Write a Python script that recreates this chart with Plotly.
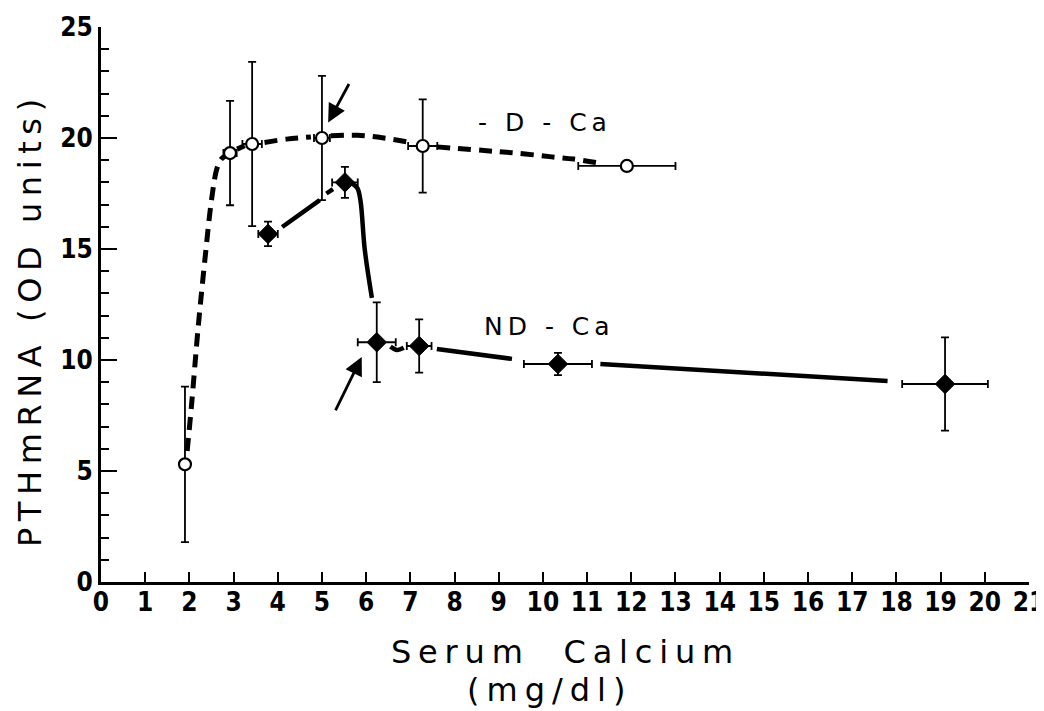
import plotly.graph_objects as go

# -D-Ca (open circles)
dca_x = [1.9, 2.92, 3.42, 5.0, 7.28, 11.9]
dca_y = [5.3, 19.32, 19.73, 20.0, 19.64, 18.74]
dca_yerr = [3.5, 2.35, 3.7, 2.8, 2.1, 0.2]
dca_xerr = [0.11, 0.15, 0.22, 0.18, 0.33, 1.1]

# ND-Ca (filled diamonds)
ndca_x = [3.78, 5.52, 6.24, 7.2, 10.34, 19.1]
ndca_y = [15.68, 18.0, 10.8, 10.63, 9.82, 8.92]
ndca_yerr = [0.55, 0.7, 1.8, 1.2, 0.5, 2.1]
ndca_xerr = [0.22, 0.29, 0.43, 0.28, 0.77, 0.97]

# hand-drawn curves
dca_curve_x = [1.95, 2.05, 2.2, 2.35, 2.5, 2.62, 2.72, 2.82, None,
               3.08, 3.25, None,
               3.7, 4.2, 4.75, None,
               5.2, 5.8, 6.4, 7.0, None,
               7.6, 8.9, 9.6, 10.2, 10.7, 11.2]
dca_curve_y = [5.9, 8.0, 11.5, 14.5, 17.2, 18.6, 19.05, 19.2, None,
               19.5, 19.65, None,
               19.8, 19.95, 20.05, None,
               20.1, 20.12, 20.0, 19.8, None,
               19.6, 19.4, 19.28, 19.15, 19.05, 18.9]

nd_curve_x = [4.1, 4.95, None, 5.1, 5.25, None,
              5.68, 5.8, 5.87, 5.97, 6.13, None,
              6.55, 6.7, 6.85, None,
              7.6, 9.3, None,
              11.3, 17.8]
nd_curve_y = [15.99, 17.2, None, 17.5, 17.7, None,
              17.95, 17.75, 17.2, 14.95, 12.8, None,
              10.6, 10.45, 10.55, None,
              10.5, 10.05, None,
              9.82, 9.05]

# labels and arrows
label_text = ["- D - Ca", "ND - Ca"]
label_x = [10.05, 10.14]
label_y = [20.7, 11.5]
arrow_tip_x = [5.14, 5.9]
arrow_tip_y = [20.7, 10.14]
arrow_tail_x = [5.63, 5.29]
arrow_tail_y = [22.5, 7.66]

x_title_lines = ["Serum  Calcium", "(mg/dl)"]
y_title = "PTHmRNA (OD units)"

x_ticks = list(range(0, 22))
y_ticks = [0, 5, 10, 15, 20, 25]


def spaced(txt, px):
    return f'<span style="letter-spacing:{px}px">{txt}</span>'


fig = go.Figure()

fig.add_trace(go.Scatter(
    x=dca_curve_x, y=dca_curve_y, mode="lines",
    line=dict(color="black", width=5, dash="13px,8px", shape="spline"),
    connectgaps=False, hoverinfo="skip", showlegend=False))

fig.add_trace(go.Scatter(
    x=nd_curve_x, y=nd_curve_y, mode="lines",
    line=dict(color="black", width=4.5, shape="spline"),
    connectgaps=False, hoverinfo="skip", showlegend=False))

fig.add_trace(go.Scatter(
    x=dca_x, y=dca_y, mode="markers",
    marker=dict(symbol="circle", size=12, color="white",
                line=dict(color="black", width=2.2)),
    error_y=dict(type="data", array=dca_yerr, color="black", thickness=1.8, width=4),
    error_x=dict(type="data", array=dca_xerr, color="black", thickness=1.8, width=4),
    showlegend=False))

fig.add_trace(go.Scatter(
    x=ndca_x, y=ndca_y, mode="markers",
    marker=dict(symbol="diamond", size=15, color="black",
                line=dict(color="black", width=1)),
    error_y=dict(type="data", array=ndca_yerr, color="black", thickness=1.8, width=4),
    error_x=dict(type="data", array=ndca_xerr, color="black", thickness=1.8, width=4),
    showlegend=False))

for t, lx, ly in zip(label_text, label_x, label_y):
    fig.add_annotation(x=lx, y=ly, text=spaced(t, 5), showarrow=False,
                       font=dict(family="DejaVu Sans", size=25, color="black"))

for tx, ty, ax, ay in zip(arrow_tip_x, arrow_tip_y, arrow_tail_x, arrow_tail_y):
    fig.add_annotation(x=tx, y=ty, ax=ax, ay=ay, axref="x", ayref="y",
                       xref="x", yref="y", text="", showarrow=True,
                       arrowhead=2, arrowsize=1.3, arrowwidth=2.8,
                       arrowcolor="black", standoff=0)

title_font = dict(family="DejaVu Sans", size=32, color="black")

# axis titles placed as annotations for exact line spacing
for txt, shift, xs, sp in zip(x_title_lines, [-70, -108], [0, -16], [6.8, 7]):
    fig.add_annotation(x=0.5, y=0, xref="paper", yref="paper", text=spaced(txt, sp),
                       showarrow=False, yanchor="middle", xanchor="center",
                       yshift=shift, xshift=xs, font=title_font)
fig.add_annotation(x=0, y=0.472, xref="paper", yref="paper", text=spaced(y_title, 6.6),
                   showarrow=False, textangle=-90, xanchor="center",
                   yanchor="middle", xshift=-71, font=title_font)

tick_font = dict(family="Liberation Sans Narrow, DejaVu Sans Condensed, Arial Narrow",
                 size=26, color="black", weight="bold")

# page body has an 8px margin: figure is sized to fit inside the window
fig.update_layout(
    width=1036, height=703,
    margin=dict(l=93, r=15, t=19, b=129),
    paper_bgcolor="white", plot_bgcolor="white",
    xaxis=dict(
        range=[0, 21], tickvals=x_ticks, ticktext=[str(v) for v in x_ticks],
        showgrid=False, zeroline=False, automargin=False,
        showline=True, linecolor="black", linewidth=3,
        ticks="inside", ticklen=10, tickwidth=2, tickcolor="black",
        tickfont=tick_font, ticklabelstandoff=-5, ticklabeloverflow="allow",
    ),
    yaxis=dict(
        range=[0, 25], tickvals=y_ticks, ticktext=[str(v) for v in y_ticks],
        showgrid=False, zeroline=False, automargin=False,
        showline=True, linecolor="black", linewidth=3,
        ticks="inside", ticklen=16, tickwidth=2, tickcolor="black",
        minor=dict(dtick=1, ticks="inside", ticklen=8, tickwidth=2, tickcolor="black",
                   showgrid=False),
        tickfont=tick_font, ticklabeloverflow="allow",
    ),
)

fig.write_html("out.html")
